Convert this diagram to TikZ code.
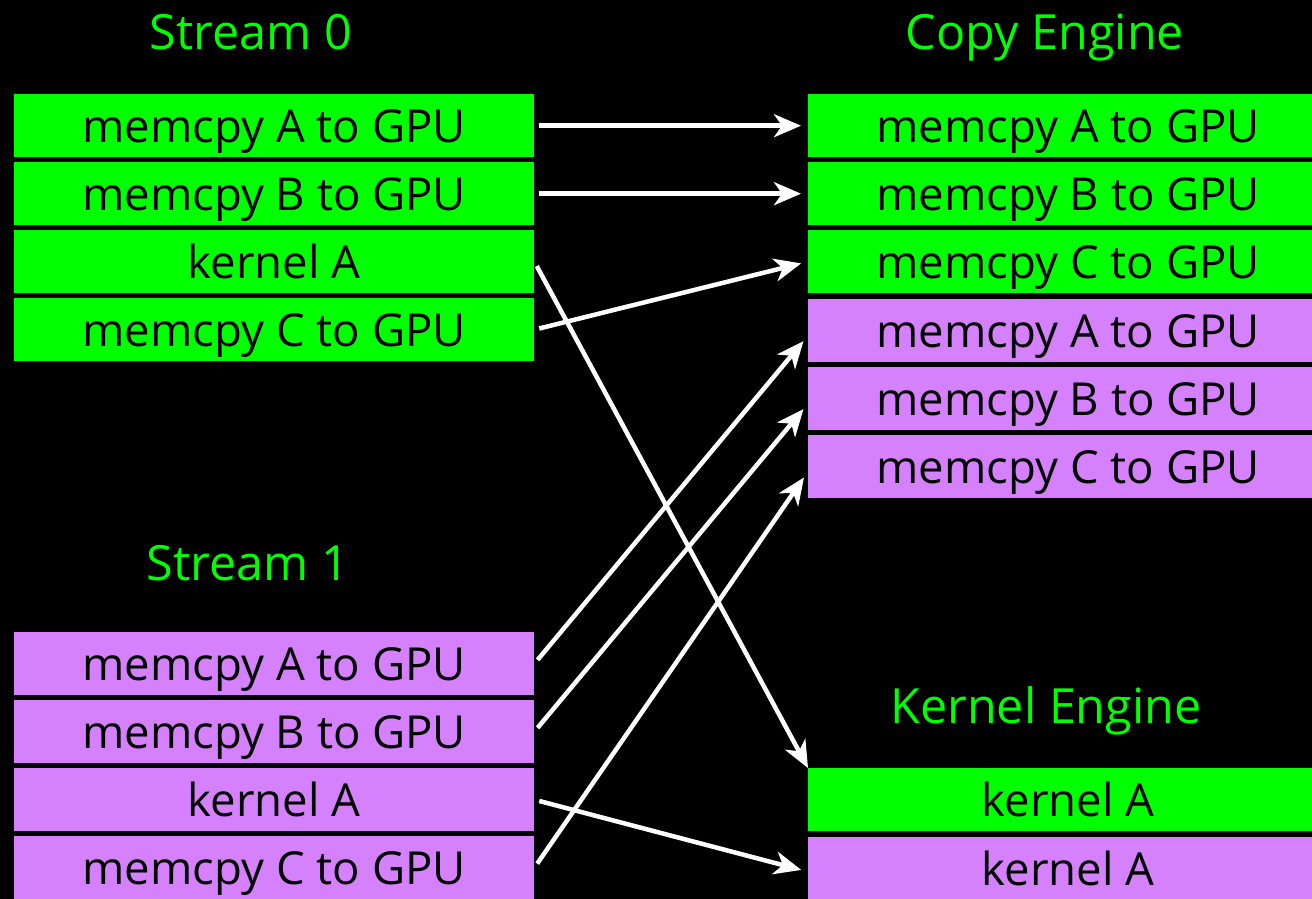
\documentclass[tikz,border=0pt]{standalone}
\usepackage{fontspec}
\setmainfont{Open Sans}
\usetikzlibrary{arrows.meta}
\definecolor{sgreen}{RGB}{0,255,0}
\definecolor{spurple}{RGB}{213,128,252}
\begin{document}
\begin{tikzpicture}[x=1pt,y=-1pt,
  box/.style={rectangle, inner sep=0pt, minimum width=520pt, minimum height=63pt,
    anchor=north west, text height=36pt, text depth=3pt,
    font=\fontsize{45.5}{45.5}\selectfont, text=black},
  gbox/.style={box, fill=sgreen},
  pbox/.style={box, fill=spurple},
  title/.style={anchor=base, text=sgreen, inner sep=0pt, font=\fontsize{48.5}{48.5}\selectfont},
  arr/.style={draw=white, line width=4.5pt, -{Stealth[length=27pt,width=23pt,inset=8pt]},
    shorten <=5pt, shorten >=7pt}]
\useasboundingbox (0,0) rectangle (1312,899);
\fill[black] (0,0) rectangle (1312,899);

% titles
\node[title] (t0) at (251,49) {Stream 0};
\node[title] (t1) at (248,580) {Stream 1};
\node[title] (tc) at (1045,49) {Copy Engine};
\node[title] (tk) at (1046,723) {Kernel Engine};

% stream 0
\node[gbox] (s0a) at (14,94)  {memcpy A to GPU};
\node[gbox] (s0b) at (14,162) {memcpy B to GPU};
\node[gbox] (s0c) at (14,230) {kernel A};
\node[gbox] (s0d) at (14,298) {memcpy C to GPU};

% stream 1
\node[pbox] (s1a) at (14,632) {memcpy A to GPU};
\node[pbox] (s1b) at (14,700) {memcpy B to GPU};
\node[pbox] (s1c) at (14,768) {kernel A};
\node[pbox] (s1d) at (14,836) {memcpy C to GPU};

% copy engine
\node[gbox] (ce0) at (808,94)  {memcpy A to GPU};
\node[gbox] (ce1) at (808,162) {memcpy B to GPU};
\node[gbox] (ce2) at (808,230) {memcpy C to GPU};
\node[pbox] (ce3) at (808,299) {memcpy A to GPU};
\node[pbox] (ce4) at (808,367) {memcpy B to GPU};
\node[pbox] (ce5) at (808,435) {memcpy C to GPU};

% kernel engine
\node[gbox] (ke0) at (808,768) {kernel A};
\node[pbox] (ke1) at (808,837) {kernel A};

% arrows
\draw[arr] (s0a.east) -- (ce0.west);
\draw[arr] (s0b.east) -- (ce1.west);
\draw[arr, shorten >=0pt] (s0c.east) -- (ke0.north west);
\draw[arr] (s0d.east) -- (ce2.west);
\draw[arr] (s1a.east) -- ([yshift=-5pt]ce3.west);
\draw[arr] (s1b.east) -- ([yshift=-5pt]ce4.west);
\draw[arr] (s1c.east) -- ([yshift=-3pt]ke1.west);
\draw[arr] (s1d.east) -- ([yshift=-5pt]ce5.west);
\end{tikzpicture}
\end{document}
